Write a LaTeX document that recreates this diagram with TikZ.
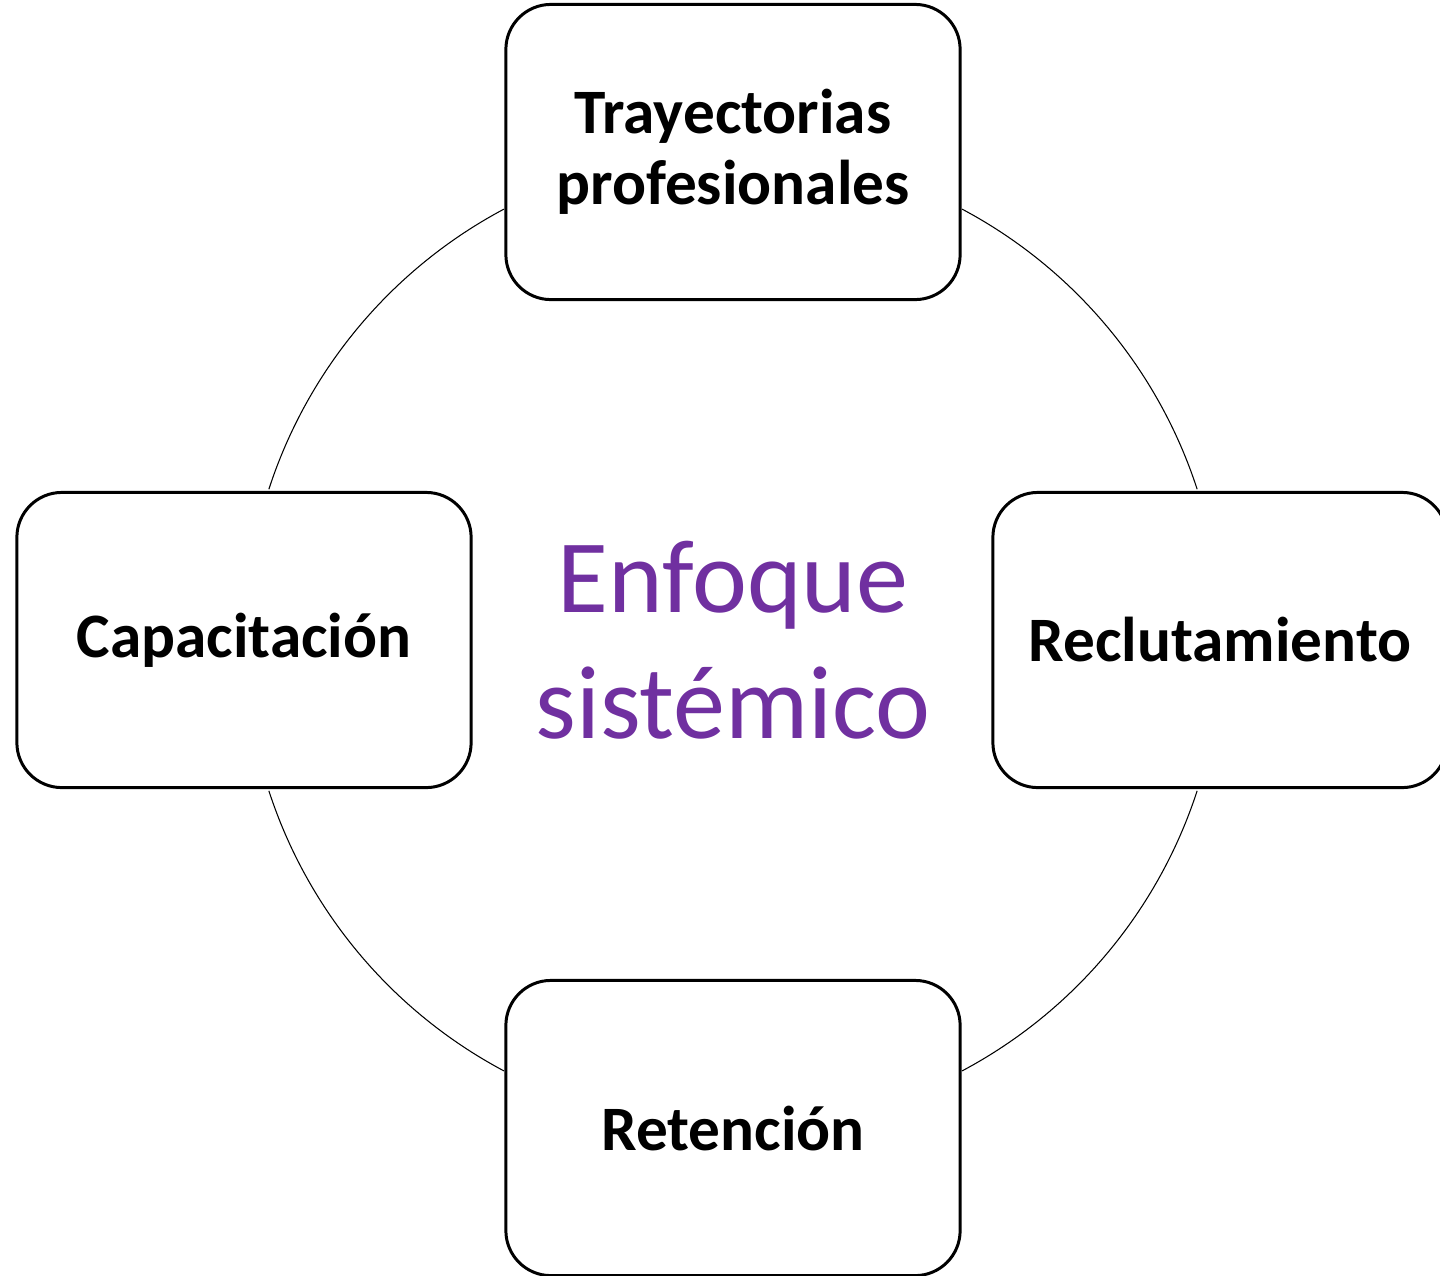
\documentclass[tikz,border=0pt]{standalone}
\usepackage{fontspec}
\setmainfont{Carlito}
\definecolor{enfpurple}{RGB}{112,48,160}
\tikzset{
  boxnode/.style={draw=black, line width=0.85pt, fill=white, rounded corners=0.45cm,
    minimum width=4.54cm, minimum height=2.95cm, align=center, inner sep=0pt,
    font=\fontsize{18}{20.2}\selectfont\bfseries},
  ring/.style={draw=black, line width=0.3pt},
  centertext/.style={align=center, text=enfpurple, font=\fontsize{29.6}{35.8}\selectfont}
}
\begin{document}
\begin{tikzpicture}[x=0.01cm,y=-0.01cm]
\useasboundingbox (0,0) rectangle (1440,1275);
\coordinate (c) at (733,640);
% ring arcs between boxes
\draw[ring] ([shift={(-18:488)}]c) arc[start angle=-18, end angle=-62, radius=488];
\draw[ring] ([shift={(-118:488)}]c) arc[start angle=-118, end angle=-162, radius=488];
\draw[ring] ([shift={(-198:488)}]c) arc[start angle=-198, end angle=-242, radius=488];
\draw[ring] ([shift={(-298:488)}]c) arc[start angle=-298, end angle=-342, radius=488];
\node[boxnode] (top) at (733,152) {Trayectorias\\profesionales};
\node[boxnode] (left) at (244,640) {Capacitación};
\node[boxnode] (right) at (1220,640) {Reclutamiento};
\node[boxnode] (bottom) at (733,1128) {Retención};
\node[centertext] (center) at (c) {Enfoque\\sistémico};
\end{tikzpicture}
\end{document}
